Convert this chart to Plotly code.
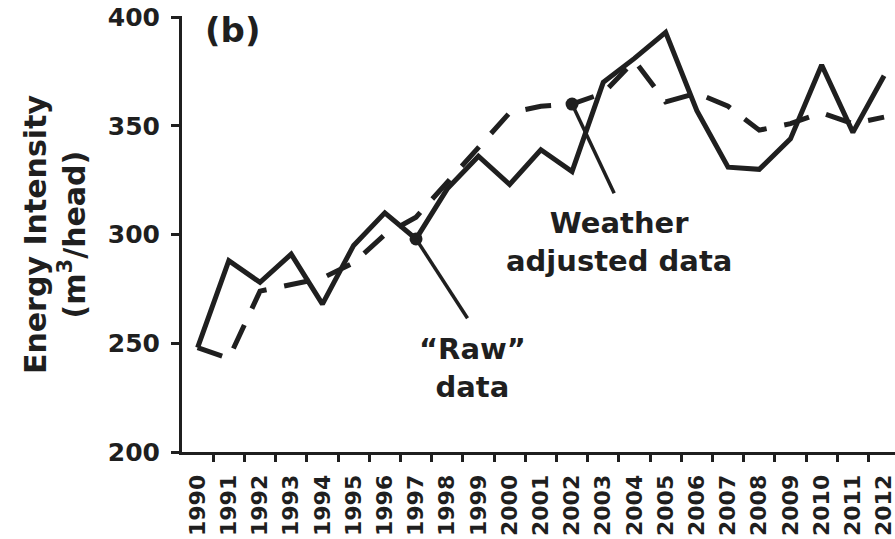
import plotly.graph_objects as go

# Annual energy intensity, m3 per head
years = list(range(1990, 2013))
raw_data = [248, 288, 278, 291, 268, 295, 310, 298, 321, 336, 323, 339, 329,
            370, 381, 393, 357, 331, 330, 344, 378, 347, 373]
weather_adjusted = [248, 243, 274, 277, 280, 287, 300, 308, 324, 340, 356, 359, 360,
                    365, 380, 361, 365, 359, 348, 351, 356, 351, 354]
y_ticks = [200, 250, 300, 350, 400]

INK = "#1f1f1f"
FONT = "DejaVu Sans"

fig = go.Figure()

fig.add_trace(go.Scatter(
    x=years, y=weather_adjusted, mode="lines",
    line=dict(color=INK, width=5, dash="26px,18px"),
    showlegend=False,
))
fig.add_trace(go.Scatter(
    x=years, y=raw_data, mode="lines",
    line=dict(color=INK, width=5),
    showlegend=False,
))

# Highlighted points for the two call-outs
raw_idx = years.index(1997)
adj_idx = years.index(2002)
fig.add_trace(go.Scatter(
    x=[years[raw_idx], years[adj_idx]],
    y=[raw_data[raw_idx], weather_adjusted[adj_idx]],
    mode="markers", marker=dict(color=INK, size=13),
    showlegend=False,
))

# Leader lines from the highlighted points towards their labels
fig.add_shape(type="line", xref="x", yref="y",
              x0=years[raw_idx], y0=raw_data[raw_idx], x1=1998.65, y1=261.5,
              line=dict(color=INK, width=3.5))
fig.add_shape(type="line", xref="x", yref="y",
              x0=years[adj_idx], y0=weather_adjusted[adj_idx], x1=2003.35, y1=319,
              line=dict(color=INK, width=3.5))

label_font = dict(family=FONT, size=29, color=INK, weight="bold")
fig.add_annotation(x=1998.8, y=238.5, xref="x", yref="y",
                   text="\u201cRaw\u201d<br>data", showarrow=False,
                   font=label_font, align="center")
fig.add_annotation(x=2003.5, y=296.5, xref="x", yref="y",
                   text="Weather<br>adjusted data", showarrow=False,
                   font=label_font, align="center")

fig.add_annotation(x=0.03, y=0.968, xref="paper", yref="paper",
                   xanchor="left", yanchor="middle",
                   text="(b)", showarrow=False,
                   font=dict(family=FONT, size=34, color=INK, weight="bold"))

fig.add_annotation(x=-0.178, y=0.50, xref="paper", yref="paper",
                   xanchor="center", yanchor="middle", textangle=-90,
                   text="Energy Intensity<br>(m<sup>3</sup>/head)", showarrow=False,
                   font=dict(family=FONT, size=30, color=INK, weight="bold"),
                   align="center")

fig.update_layout(
    width=895, height=539,
    margin=dict(l=182, r=0, t=16, b=87),
    paper_bgcolor="white", plot_bgcolor="white",
    font=dict(family=FONT, color=INK),
)

fig.update_xaxes(
    range=[1989.5, 2012.35],
    tickmode="array", tickvals=years, ticktext=[str(y) for y in years],
    tickangle=-90, ticks="", ticklabelstandoff=11,
    ticklabeloverflow="allow",
    tickfont=dict(family=FONT, size=22, color=INK, weight="bold"),
    minor=dict(tickmode="array", tickvals=[y + 0.5 for y in years[:-1]],
               ticks="outside", ticklen=7, tickwidth=2.5, tickcolor=INK),
    showline=True, linecolor=INK, linewidth=3,
    showgrid=False, zeroline=False,
)
fig.update_yaxes(
    range=[200, 400.5],
    tickmode="array", tickvals=y_ticks,
    ticks="outside", ticklen=8, tickwidth=2.5, tickcolor=INK,
    ticklabelstandoff=6,
    tickfont=dict(family=FONT, size=25, color=INK, weight="bold"),
    showline=True, linecolor=INK, linewidth=3,
    showgrid=False, zeroline=False,
)

fig.write_html("out.html")
